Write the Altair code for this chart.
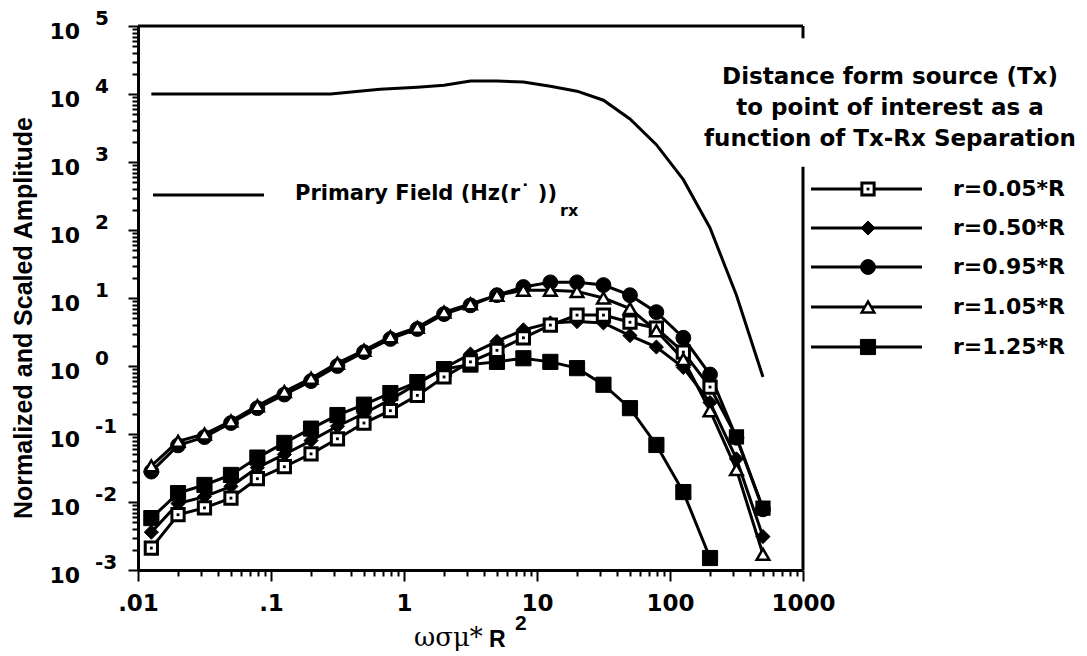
import altair as alt
import pandas as pd

# Frequency parameter (omega*sigma*mu*R^2) at which the fields were evaluated
x_vals = [0.0126, 0.02, 0.0316, 0.05, 0.079, 0.126, 0.2, 0.316, 0.5, 0.79,
          1.26, 2, 3.16, 5, 7.9, 12.6, 20, 31.6, 50, 79, 126, 200, 316, 500]

# Normalized and scaled amplitudes for each source-to-point distance
r005 = [0.0021, 0.0065, 0.0082, 0.0114, 0.022, 0.033, 0.051, 0.085, 0.145, 0.22,
        0.37, 0.69, 1.15, 1.7, 2.6, 4.0, 5.6, 5.6, 4.4, 3.6, 1.6, 0.49, 0.091, 0.0081]
r050 = [0.0036, 0.0095, 0.012, 0.017, 0.032, 0.05, 0.08, 0.13, 0.2, 0.32,
        0.55, 0.93, 1.5, 2.3, 3.4, 4.3, 4.5, 4.3, 2.8, 1.9, 0.95, 0.29, 0.043, 0.0031]
r095 = [0.028, 0.068, 0.09, 0.145, 0.24, 0.38, 0.6, 1.0, 1.6, 2.5,
        3.5, 5.8, 7.8, 11, 14.5, 17, 17, 15.5, 11, 6.2, 2.6, 0.75, 0.088, 0.0078]
r105 = [0.034, 0.078, 0.1, 0.155, 0.26, 0.42, 0.66, 1.1, 1.7, 2.7,
        3.7, 6.2, 8.2, 11, 13, 13, 12.5, 10, 7, 3.3, 1.25, 0.22, 0.030, 0.0017]
r125 = [0.0058, 0.0135, 0.0178, 0.025, 0.045, 0.074, 0.12, 0.19, 0.27, 0.40,
        0.58, 0.9, 1.05, 1.15, 1.3, 1.15, 0.93, 0.53, 0.24, 0.069, 0.014, 0.0015]

series_names = ["r=0.05*R", "r=0.50*R", "r=0.95*R", "r=1.05*R", "r=1.25*R"]
series_values = [r005, r050, r095, r105, r125]

# Primary field curve
primary_x = [0.0126, 0.1, 0.28, 0.66, 1.26, 2, 3.16, 5, 7.9, 12.6, 20, 31.6,
             50, 79, 126, 200, 316, 500]
primary_y = [10000, 10000, 10000, 11700, 12600, 13500, 15500, 15500, 15000, 13000,
             11000, 8100, 4300, 1800, 550, 107, 11, 0.69]

# Axis tick labels
x_tick_labels = {0.01: ".01", 0.1: ".1", 1: "1", 10: "10", 100: "100", 1000: "1000"}
y_exponents = [-3, -2, -1, 0, 1, 2, 3, 4, 5]

SANS = "Liberation Sans"
WIDE = "DejaVu Sans"
W, H = 665, 544
LEFT, TOP = 138, 26

rows = []
for name, vals in zip(series_names, series_values):
    for xv, yv in zip(x_vals, vals):
        rows.append({"x": xv, "y": yv, "series": name})
df = pd.DataFrame(rows)
prim = pd.DataFrame({"x": primary_x, "y": primary_y})

x_major = [0.01, 0.1, 1, 10, 100, 1000]
x_ticks = sorted(set([m * d for d in x_major[:-1] for m in range(1, 10)] + [1000]))
y_major = [10.0 ** k for k in y_exponents]
y_ticks = sorted(set([m * d for d in y_major[:-1] for m in range(1, 10)] + [1e5]))

xscale = alt.Scale(type="log", domain=[0.01, 1000], nice=False)
yscale = alt.Scale(type="log", domain=[0.001, 100000], nice=False)

x_label_expr = " : ".join(
    f"datum.value == {k} ? '{v}'" for k, v in x_tick_labels.items()) + " : ''"
x_major_test = "indexof([0.01,0.1,1,10,100,1000], datum.value) >= 0"
y_major_test = "abs(log(datum.value)/LN10 - round(log(datum.value)/LN10)) < 1e-6"

x_axis = alt.Axis(values=x_ticks, labelExpr=x_label_expr, title=None, grid=False,
                  labelFont=WIDE, labelFontSize=23, labelFontWeight="bold",
                  labelColor="black", labelPadding=11, labelFlush=False,
                  labelOverlap=False,
                  domainColor="black", domainWidth=3, tickColor="black", tickWidth=2,
                  tickSize={"condition": {"test": x_major_test, "value": 11}, "value": 6})
y_axis = alt.Axis(values=y_ticks, labels=False, title=None, grid=False,
                  domainColor="black", domainWidth=3, tickColor="black", tickWidth=2,
                  tickSize={"condition": {"test": y_major_test, "value": 10}, "value": 6})

X = alt.X("x:Q", scale=xscale, axis=x_axis)
Y = alt.Y("y:Q", scale=yscale, axis=y_axis)

layers = []

# Primary field line
layers.append(alt.Chart(prim).mark_line(color="black", strokeWidth=3).encode(x=X, y=Y))

# Series lines
layers.append(alt.Chart(df).mark_line(color="black", strokeWidth=3).encode(
    x=X, y=Y, detail="series:N"))

styles = {
    "r=0.05*R": dict(shape="square", filled=True, fill="white", stroke="black", strokeWidth=3, size=150),
    "r=0.50*R": dict(shape="diamond", filled=True, fill="black", stroke="black", strokeWidth=1, size=200),
    "r=0.95*R": dict(shape="circle", filled=True, fill="black", stroke="black", strokeWidth=1, size=220),
    "r=1.05*R": dict(shape="triangle-up", filled=True, fill="white", stroke="black", strokeWidth=2.5, size=160),
    "r=1.25*R": dict(shape="square", filled=True, fill="black", stroke="black", strokeWidth=1, size=230),
}
draw_order = ["r=1.25*R", "r=0.50*R", "r=0.05*R", "r=0.95*R", "r=1.05*R"]
for name in draw_order:
    st = styles[name]
    sub = df[df["series"] == name]
    layers.append(alt.Chart(sub).mark_point(opacity=1, **st).encode(x=X, y=Y))
    if name == "r=0.05*R":
        layers.append(alt.Chart(sub).mark_point(shape="square", filled=True, fill="black",
                                                size=8, opacity=1).encode(x=X, y=Y))

# Top and right frame lines
frame_top = pd.DataFrame({"x": [0.01], "x2": [1000], "y": [100000]})
layers.append(alt.Chart(frame_top).mark_rule(color="black", strokeWidth=3).encode(
    x=X, x2="x2:Q", y=Y))
frame_right = pd.DataFrame({"x": [1000, 1000], "y": [0.001, 66000], "y2": [850, 100000]})
layers.append(alt.Chart(frame_right).mark_rule(color="black", strokeWidth=3).encode(
    x=X, y=Y, y2="y2:Q"))

# Y tick labels as "10" with a raised exponent
ylab = pd.DataFrame({"y": y_major, "e": [str(k) for k in y_exponents]})
layers.append(alt.Chart(ylab).mark_text(text="10", align="right", baseline="middle", dy=6,
                                        font=WIDE, fontSize=22, fontWeight="bold",
                                        color="black").encode(x=alt.value(-58), y=Y))
layers.append(alt.Chart(ylab).mark_text(align="left", baseline="middle", dy=-7,
                                        font=WIDE, fontSize=20, fontWeight="bold",
                                        color="black").encode(x=alt.value(-43), y=Y, text="e:N"))

one = pd.DataFrame({"a": [0]})


def label(text, x, y, size, align="left", weight="bold", font=WIDE, angle=None):
    kw = dict(text=text, align=align, baseline="middle", font=font, fontSize=size,
              fontWeight=weight, color="black")
    if angle is not None:
        kw["angle"] = angle
    return alt.Chart(one).mark_text(**kw).encode(x=alt.value(x - LEFT), y=alt.value(y - TOP))


# Axis titles
layers.append(label("Normalized and Scaled Amplitude", 24, 318, 25, align="center",
                    font=SANS, angle=270))
layers.append(label("ωσμ*", 414, 638, 26, weight="normal", font="DejaVu Serif"))
layers.append(label("R", 489, 640, 23, font=SANS))
layers.append(label("2", 515, 624, 21, font=SANS))

# Primary field annotation
layers.append(alt.Chart(one).mark_rule(color="black", strokeWidth=3).encode(
    x=alt.value(153 - LEFT), x2=alt.value(264 - LEFT), y=alt.value(195 - TOP)))
layers.append(label("Primary Field (Hz(r\u02d9  ))", 295, 194, 21))
layers.append(label("rx", 560, 211, 16))

# Legend
title_lines = ["Distance form source (Tx)", "to point of interest as a",
               "function of Tx-Rx Separation"]
for i, t in enumerate(title_lines):
    layers.append(label(t, 890, 77 + 31 * i, 23, align="center"))

legend_y = [189, 228, 267, 307, 347]
for name, ly in zip(series_names, legend_y):
    st = styles[name]
    layers.append(alt.Chart(one).mark_rule(color="black", strokeWidth=3).encode(
        x=alt.value(811 - LEFT), x2=alt.value(922 - LEFT), y=alt.value(ly - TOP)))
    layers.append(alt.Chart(one).mark_point(opacity=1, **st).encode(
        x=alt.value(868 - LEFT), y=alt.value(ly - TOP)))
    if name == "r=0.05*R":
        layers.append(alt.Chart(one).mark_point(shape="square", filled=True, fill="black",
                                                size=8, opacity=1).encode(
            x=alt.value(868 - LEFT), y=alt.value(ly - TOP)))
    layers.append(label(name, 953, ly, 22))

chart = alt.layer(*layers).properties(
    width=W, height=H,
    autosize=alt.AutoSizeParams(type="none"),
    padding={"left": LEFT, "top": TOP, "right": 1087 - LEFT - W, "bottom": 656 - TOP - H},
    background="white",
).configure_view(stroke=None)

chart.save("out.html", embed_options={"renderer": "svg", "actions": False})
